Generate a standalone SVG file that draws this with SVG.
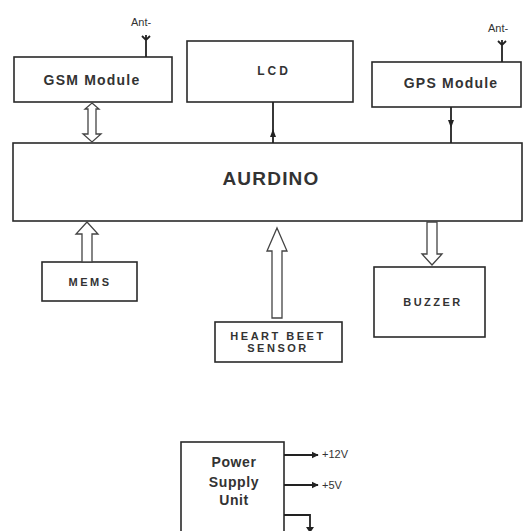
<svg xmlns="http://www.w3.org/2000/svg" width="527" height="531" viewBox="0 0 527 531">
<style>
.box{fill:#fff;stroke:#2a2a2a;stroke-width:1.6}
.lbl{font-family:"Liberation Sans",Arial,sans-serif;font-weight:bold;fill:#333;text-anchor:middle}
.sm{font-family:"Liberation Sans",Arial,sans-serif;fill:#333;font-size:11px}
.ln{stroke:#222;stroke-width:1.8;fill:none}
.hol{fill:#fff;stroke:#444;stroke-width:1.3}
</style>
<defs>
<marker id="ah" viewBox="0 0 10 10" refX="9" refY="5" markerWidth="4" markerHeight="4" orient="auto">
<path d="M0,0 L10,5 L0,10 Z" fill="#222"/>
</marker>
</defs>
<rect width="527" height="531" fill="#fff"/>

<g id="gsm">
<rect class="box" x="14" y="57" width="158" height="45"/>
<text class="lbl" x="92" y="85" font-size="14" letter-spacing="1.2">GSM Module</text>
<text class="sm" x="131" y="26" font-size="12">Ant-</text>
<path class="ln" d="M146,35 L146,57 M142,36 L146,40 L150,36"/>
</g>

<g id="lcd">
<rect class="box" x="187" y="41" width="166" height="61"/>
<text class="lbl" x="274" y="75" font-size="12" letter-spacing="3" fill="#555">LCD</text>
</g>

<g id="gps">
<rect class="box" x="372" y="62" width="149" height="45"/>
<text class="lbl" x="451" y="88" font-size="14" letter-spacing="1.2">GPS Module</text>
<text class="sm" x="488" y="32" font-size="12">Ant-</text>
<path class="ln" d="M502,40 L502,62 M498,41 L502,45 L506,41"/>
</g>

<g id="aurdino">
<rect class="box" x="13" y="143" width="509" height="78" stroke="#555"/>
<text class="lbl" x="271" y="185" font-size="19" letter-spacing="1.2" fill="#222">AURDINO</text>
</g>

<g id="mems">
<rect class="box" x="42" y="262" width="95" height="39"/>
<text class="lbl" x="90" y="286" font-size="11" letter-spacing="2.5" fill="#555">MEMS</text>
</g>

<g id="heart">
<rect class="box" x="215" y="322" width="127" height="40"/>
<text class="lbl" x="278" y="340" font-size="11" letter-spacing="2.5" fill="#444">HEART BEET</text>
<text class="lbl" x="278" y="352" font-size="11" letter-spacing="2.5" fill="#444">SENSOR</text>
</g>

<g id="buzzer">
<rect class="box" x="374" y="267" width="111" height="70" stroke="#555"/>
<text class="lbl" x="433" y="306" font-size="11" letter-spacing="2.5" fill="#444">BUZZER</text>
</g>

<g id="power">
<rect class="box" x="181" y="442" width="103" height="95"/>
<text class="lbl" x="234" y="467" font-size="14" letter-spacing="0.6">Power</text>
<text class="lbl" x="234" y="487" font-size="14" letter-spacing="0.6">Supply</text>
<text class="lbl" x="234" y="505" font-size="14" letter-spacing="0.6">Unit</text>
<text class="sm" x="322" y="458" font-size="10">+12V</text>
<text class="sm" x="322" y="489" font-size="10">+5V</text>
</g>

<g id="connectors">
<path class="hol" d="M92,103 L99,109 L96,109 L96,134 L101,134 L92,142 L83,134 L88,134 L88,109 L85,109 Z"/>
<path class="ln" d="M273,102 L273,143"/>
<path d="M273,129 L276,137 L270,137 Z" fill="#222"/>
<path class="ln" d="M451,107 L451,143"/>
<path d="M451,128 L454,120 L448,120 Z" fill="#222"/>
<path class="hol" d="M87,222 L98,234 L92,234 L92,262 L82,262 L82,234 L76,234 Z"/>
<path class="hol" d="M277,228 L287,251 L282,251 L282,318 L272,318 L272,251 L267,251 Z"/>
<path class="hol" d="M427,222 L437,222 L437,254 L442,254 L432,265 L422,254 L427,254 Z"/>
<path class="ln" d="M284,455 L318,455" marker-end="url(#ah)"/>
<path class="ln" d="M284,485 L318,485" marker-end="url(#ah)"/>
<path class="ln" d="M284,515 L310,515 L310,531"/>
<path d="M306,527 L314,527 L310,533 Z" fill="#222"/>
</g>
</svg>
